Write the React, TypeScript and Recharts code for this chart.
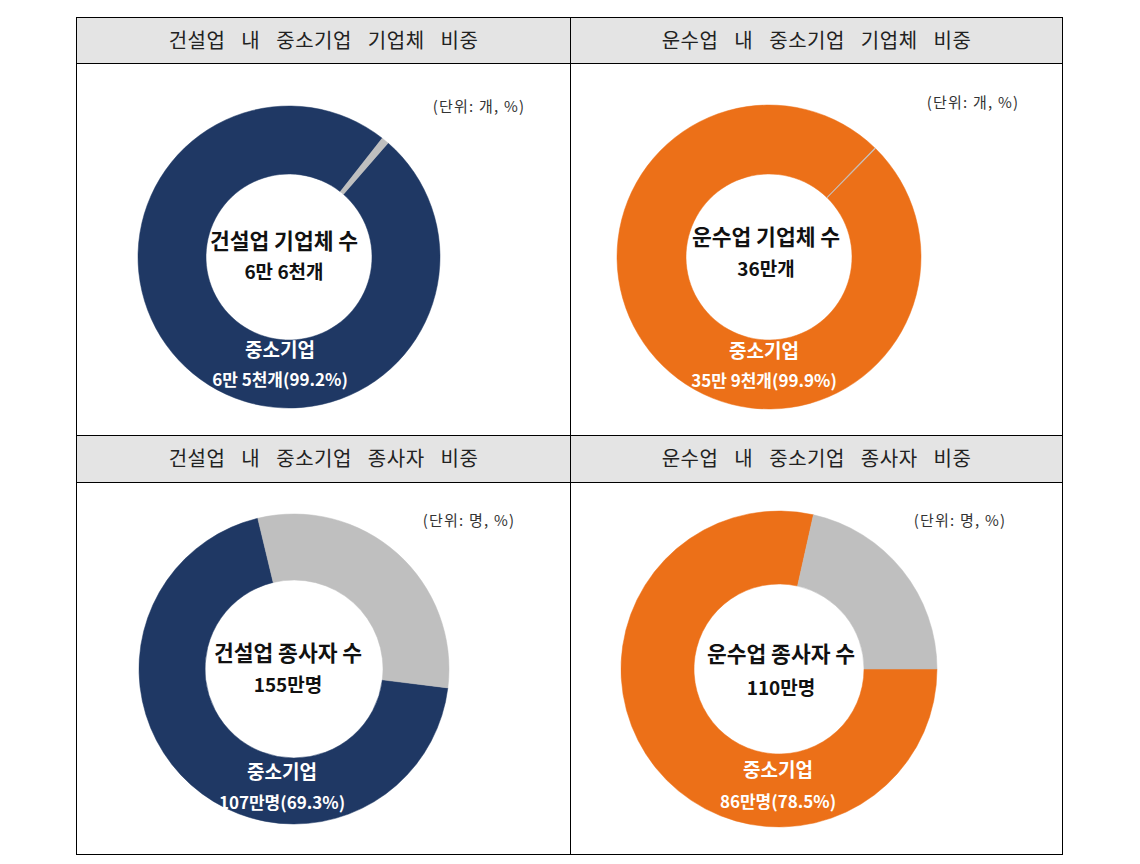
import { PieChart, Pie, Cell } from "recharts"

const headers = [
  "건설업 내 중소기업 기업체 비중",
  "운수업 내 중소기업 기업체 비중",
  "건설업 내 중소기업 종사자 비중",
  "운수업 내 중소기업 종사자 비중",
]
const categories = ["중소기업", "대기업"]
const smeShare = [99.2, 99.9, 69.3, 78.5]
const otherShare = [0.8, 0.1, 30.7, 21.5]
const centerTitles = ["건설업 기업체 수", "운수업 기업체 수", "건설업 종사자 수", "운수업 종사자 수"]
const totals = ["6만 6천개", "36만개", "155만명", "110만명"]
const smeLabels = ["6만 5천개(99.2%)", "35만 9천개(99.9%)", "107만명(69.3%)", "86만명(78.5%)"]
const units = ["(단위: 개, %)", "(단위: 개, %)", "(단위: 명, %)", "(단위: 명, %)"]

const NAVY = "#1F3864"
const ORANGE = "#EC7018"
const GRAY = "#BFBFBF"
const FONT = "'Noto Sans CJK KR', 'Noto Sans', sans-serif"

// per-panel layout: donut center/radii, start angle, colour and text positions
const panels = [
  { cx: 284, cy: 252, ro: 151, ri: 83, start: 49, color: NAVY, tx: 284, lx: 280, t1: 240, t2: 271, l1: 349, l2: 379, ux: 479, uy: 106 },
  { cx: 764, cy: 252, ro: 152, ri: 83, start: 45.5, color: ORANGE, tx: 766, lx: 764, t1: 236, t2: 268, l1: 350, l2: 380, ux: 973, uy: 102 },
  { cx: 289, cy: 664, ro: 155, ri: 89, start: -7, color: NAVY, tx: 288, lx: 282, t1: 652, t2: 684, l1: 771, l2: 802, ux: 469, uy: 520 },
  { cx: 774, cy: 664, ro: 158, ri: 85, start: 0, color: ORANGE, tx: 781, lx: 778, t1: 653, t2: 687, l1: 769, l2: 801, ux: 960, uy: 520 },
]

const hLines = [17, 63, 435, 482, 854]
const vLines = [76, 570, 1062]

function TextAt({ x, y, text, size, weight, color, width = 300, spacing = 0 }: any) {
  return (
    <div
      style={{
        position: "absolute",
        left: x - width / 2,
        top: y - 15,
        width,
        height: 30,
        lineHeight: "30px",
        textAlign: "center",
        fontSize: size,
        fontWeight: weight,
        letterSpacing: spacing,
        color,
        whiteSpace: "nowrap",
      }}
    >
      {text}
    </div>
  )
}

export default function App() {
  return (
    <div style={{ position: "absolute", left: 0, top: 0, width: 1140, height: 864, background: "#fff", fontFamily: FONT }}>
      <div style={{ position: "absolute", left: 77, top: 18, width: 985, height: 45, background: "#E4E4E4" }} />
      <div style={{ position: "absolute", left: 77, top: 436, width: 985, height: 46, background: "#E4E4E4" }} />
      {hLines.map((y) => (
        <div key={"h" + y} style={{ position: "absolute", left: 76, top: y, width: 987, height: 1, background: "#000" }} />
      ))}
      {vLines.map((x) => (
        <div key={"v" + x} style={{ position: "absolute", left: x, top: 17, width: 1, height: 838, background: "#000" }} />
      ))}

      {headers.map((h, i) => (
        <div
          key={h}
          style={{
            position: "absolute",
            left: i % 2 === 0 ? 77 : 571,
            width: i % 2 === 0 ? 493 : 491,
            top: i < 2 ? 25 : 443,
            height: 30,
            lineHeight: "30px",
            textAlign: "center",
            fontSize: 20,
            wordSpacing: 11,
            letterSpacing: 0.5,
            color: "#222",
          }}
        >
          {h}
        </div>
      ))}

      <div style={{ position: "absolute", left: 0, top: 0 }}>
        <PieChart width={1140} height={864}>
          {panels.map((p, i) => (
            <Pie
              key={i}
              data={categories.map((c, k) => ({ name: c, value: k === 0 ? smeShare[i] : otherShare[i] }))}
              dataKey="value"
              nameKey="name"
              cx={p.cx}
              cy={p.cy}
              innerRadius={p.ri}
              outerRadius={p.ro}
              startAngle={p.start}
              endAngle={p.start - 360}
              isAnimationActive={false}
            >
              <Cell fill={p.color} stroke={p.color} strokeWidth={0.5} />
              <Cell fill={GRAY} stroke={GRAY} strokeWidth={0.5} />
            </Pie>
          ))}
        </PieChart>
      </div>

      {panels.map((p, i) => (
        <div key={"t" + i}>
          <TextAt x={p.tx} y={p.t1} text={centerTitles[i]} size={21.5} weight={700} color="#111" />
          <TextAt x={p.tx} y={p.t2} text={totals[i]} size={19} weight={700} color="#111" />
          <TextAt x={p.lx} y={p.l1} text={categories[0]} size={19} weight={700} color="#fff" />
          <TextAt x={p.lx} y={p.l2} text={smeLabels[i]} size={17} weight={700} color="#fff" />
          <TextAt x={p.ux} y={p.uy} text={units[i]} size={15} weight={400} color="#333" width={150} spacing={1.2} />
        </div>
      ))}
    </div>
  )
}
